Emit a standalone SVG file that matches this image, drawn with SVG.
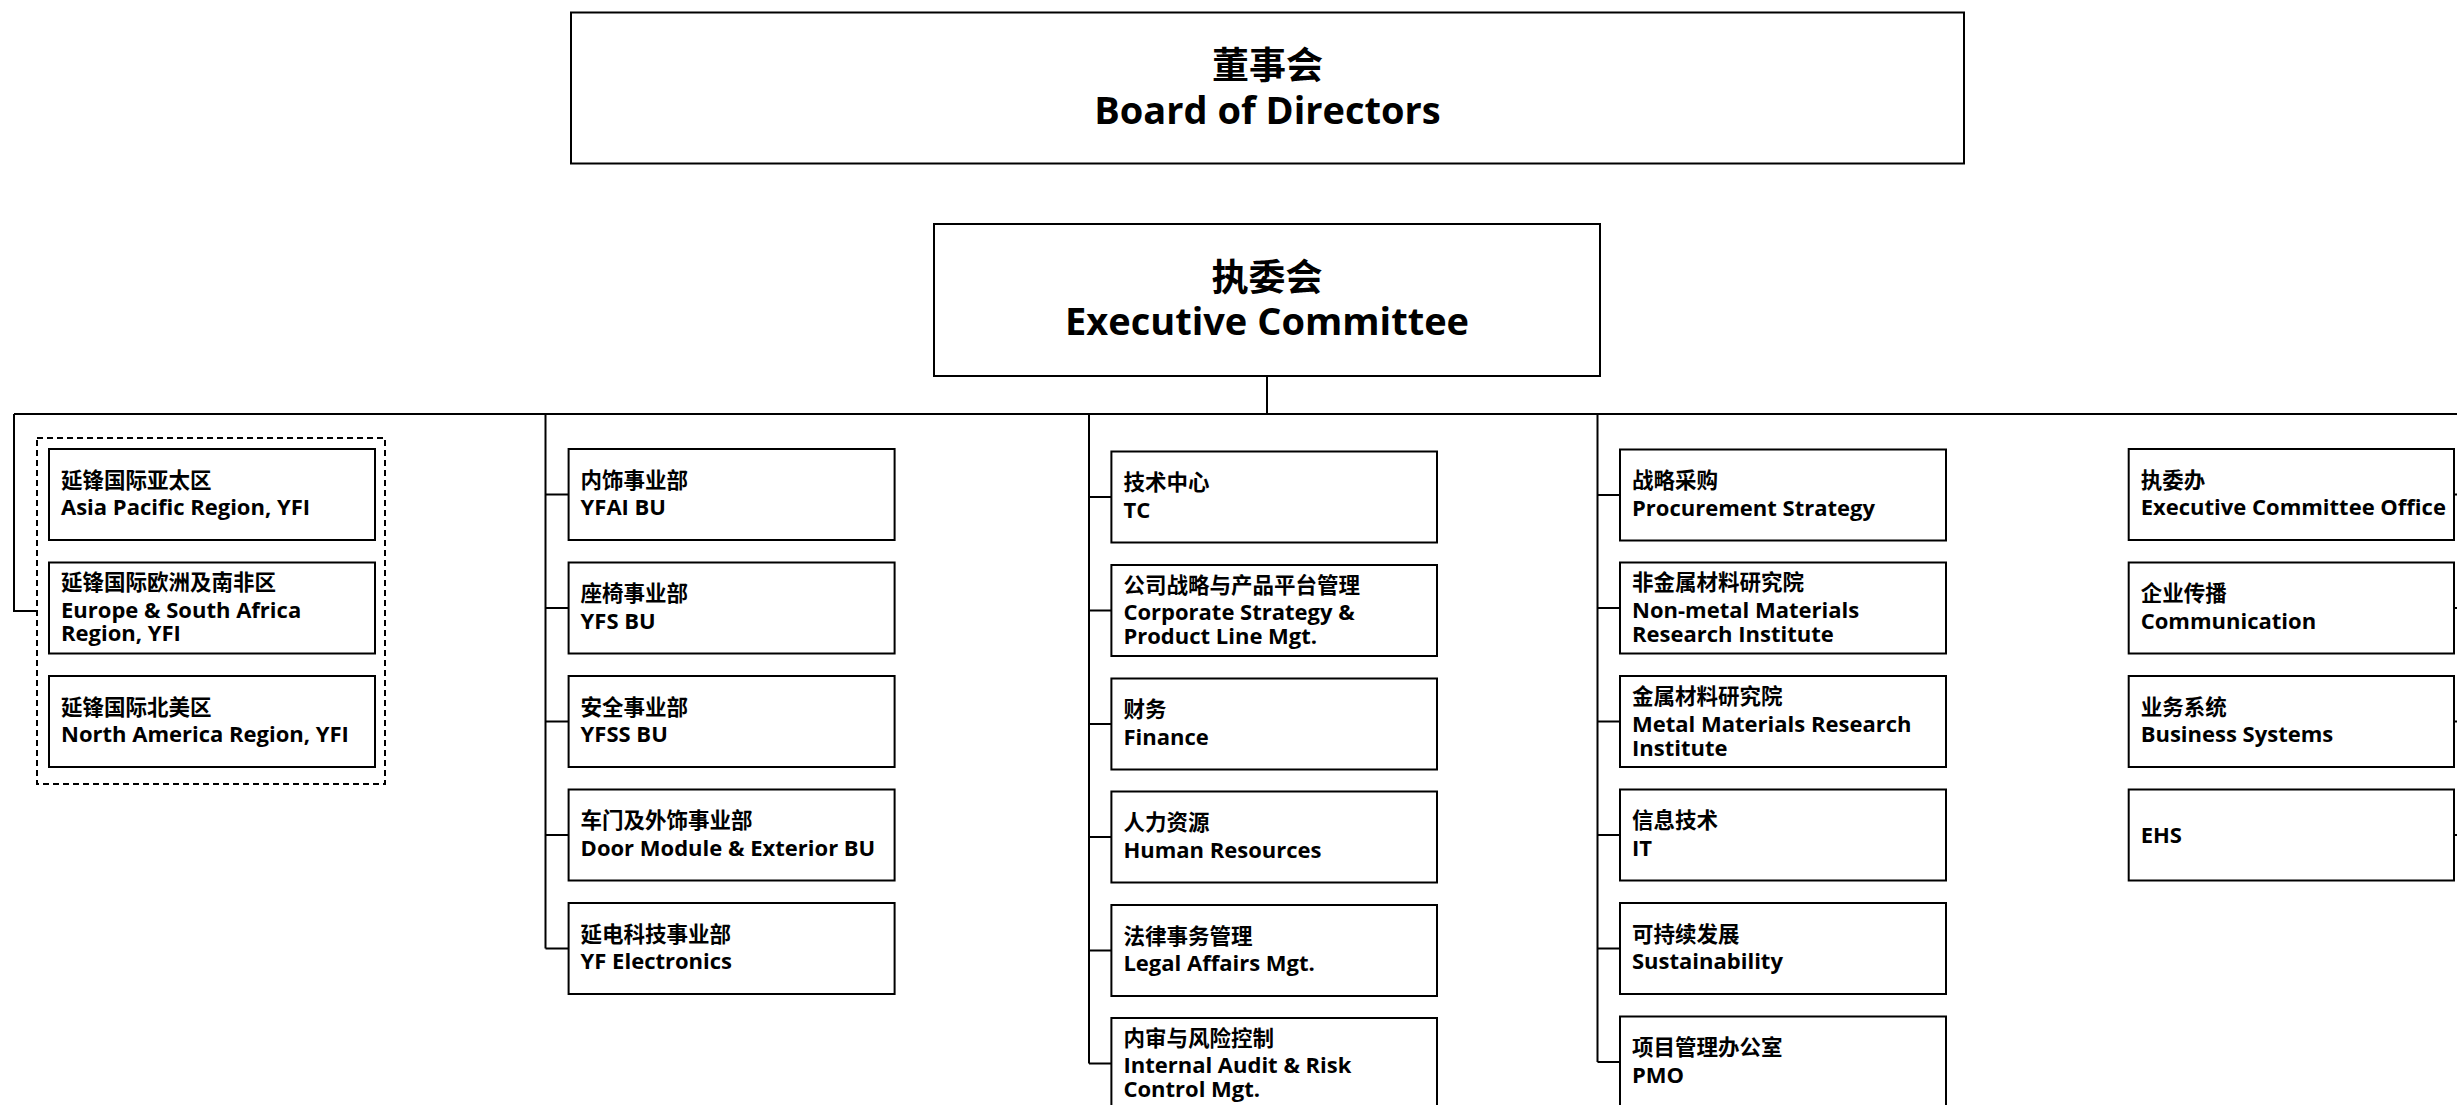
<svg xmlns="http://www.w3.org/2000/svg" width="2457" height="1105" viewBox="0 0 2457 1105">
<style>
.box{fill:#fff;stroke:#000;stroke-width:2}
.dash{fill:none;stroke:#000;stroke-width:2;stroke-dasharray:6 4}
.con{fill:none;stroke:#000;stroke-width:2}
.en{font-family:"Open Sans","Noto Sans","Noto Sans CJK SC",sans-serif;font-weight:bold;font-size:22px;fill:#000}
.zh{font-family:"Noto Sans CJK SC",sans-serif;font-weight:bold;font-size:21.5px;fill:#000}
.ten{font-family:"Open Sans","Noto Sans","Noto Sans CJK SC",sans-serif;font-weight:bold;font-size:38px;fill:#000;text-anchor:middle}
.tzh{font-family:"Noto Sans CJK SC",sans-serif;font-weight:bold;font-size:37px;fill:#000;text-anchor:middle}
</style>
<rect width="2457" height="1105" fill="#fff"/>
<g id="connectors">
<path class="con" d="M1267,376V414M14,414H2460M14,414V611H37"/>
<path class="con" d="M545.5,414V948.5M545.5,494.5H568.6M545.5,608H568.6M545.5,721.5H568.6M545.5,835H568.6M545.5,948.5H568.6"/>
<path class="con" d="M1089,414V1063.5M1089,497H1111.4M1089,610.5H1111.4M1089,724H1111.4M1089,837H1111.4M1089,950.5H1111.4M1089,1063.5H1111.4"/>
<path class="con" d="M1597.5,414V1062M1597.5,495H1620M1597.5,608H1620M1597.5,721.5H1620M1597.5,835H1620M1597.5,948.5H1620M1597.5,1062H1620"/>
<path class="con" d="M2458,414V835M2454,494.5H2460M2454,608H2460M2454,721.5H2460M2454,835H2460"/>
</g>
<g id="board"><rect class="box" x="571" y="12.5" width="1393" height="151"/><text class="tzh" x="1267.5" y="79">董事会</text><text class="ten" x="1267.5" y="124">Board of Directors</text></g>
<g id="exec"><rect class="box" x="934" y="224" width="666" height="152"/><text class="tzh" x="1267" y="291">执委会</text><text class="ten" x="1267" y="335">Executive Committee</text></g>
<g id="yfi-group"><rect class="dash" x="37" y="438" width="348" height="346"/></g>
<g id="asia"><rect class="box" x="49" y="449" width="326" height="91"/><text class="zh" x="61" y="487.5">延锋国际亚太区</text><text class="en" x="61" y="515">Asia Pacific Region, YFI</text></g>
<g id="europe"><rect class="box" x="49" y="562.5" width="326" height="91"/><text class="zh" x="61" y="590">延锋国际欧洲及南非区</text><text class="en" x="61" y="618">Europe &amp; South Africa</text><text class="en" x="61" y="641">Region, YFI</text></g>
<g id="namerica"><rect class="box" x="49" y="676" width="326" height="91"/><text class="zh" x="61" y="714.5">延锋国际北美区</text><text class="en" x="61" y="742">North America Region, YFI</text></g>
<g id="yfai"><rect class="box" x="568.6" y="449" width="326" height="91"/><text class="zh" x="580.6" y="487.5">内饰事业部</text><text class="en" x="580.6" y="515">YFAI BU</text></g>
<g id="yfs"><rect class="box" x="568.6" y="562.5" width="326" height="91"/><text class="zh" x="580.6" y="601">座椅事业部</text><text class="en" x="580.6" y="628.5">YFS BU</text></g>
<g id="yfss"><rect class="box" x="568.6" y="676" width="326" height="91"/><text class="zh" x="580.6" y="714.5">安全事业部</text><text class="en" x="580.6" y="742">YFSS BU</text></g>
<g id="door"><rect class="box" x="568.6" y="789.5" width="326" height="91"/><text class="zh" x="580.6" y="828">车门及外饰事业部</text><text class="en" x="580.6" y="855.5">Door Module &amp; Exterior BU</text></g>
<g id="yfe"><rect class="box" x="568.6" y="903" width="326" height="91"/><text class="zh" x="580.6" y="941.5">延电科技事业部</text><text class="en" x="580.6" y="969">YF Electronics</text></g>
<g id="tc"><rect class="box" x="1111.4" y="451.5" width="325.6" height="91"/><text class="zh" x="1123.4" y="490">技术中心</text><text class="en" x="1123.4" y="517.5">TC</text></g>
<g id="strategy"><rect class="box" x="1111.4" y="565" width="325.6" height="91"/><text class="zh" x="1123.4" y="592.5">公司战略与产品平台管理</text><text class="en" x="1123.4" y="620">Corporate Strategy &amp;</text><text class="en" x="1123.4" y="644">Product Line Mgt.</text></g>
<g id="finance"><rect class="box" x="1111.4" y="678.5" width="325.6" height="91"/><text class="zh" x="1123.4" y="717">财务</text><text class="en" x="1123.4" y="744.5">Finance</text></g>
<g id="hr"><rect class="box" x="1111.4" y="791.5" width="325.6" height="91"/><text class="zh" x="1123.4" y="830">人力资源</text><text class="en" x="1123.4" y="857.5">Human Resources</text></g>
<g id="legal"><rect class="box" x="1111.4" y="905" width="325.6" height="91"/><text class="zh" x="1123.4" y="943.5">法律事务管理</text><text class="en" x="1123.4" y="971">Legal Affairs Mgt.</text></g>
<g id="audit"><rect class="box" x="1111.4" y="1018" width="325.6" height="91"/><text class="zh" x="1123.4" y="1045.5">内审与风险控制</text><text class="en" x="1123.4" y="1073">Internal Audit &amp; Risk</text><text class="en" x="1123.4" y="1097">Control Mgt.</text></g>
<g id="procurement"><rect class="box" x="1620" y="449.5" width="326" height="91"/><text class="zh" x="1632" y="488">战略采购</text><text class="en" x="1632" y="515.5">Procurement Strategy</text></g>
<g id="nonmetal"><rect class="box" x="1620" y="562.5" width="326" height="91"/><text class="zh" x="1632" y="590">非金属材料研究院</text><text class="en" x="1632" y="618">Non-metal Materials</text><text class="en" x="1632" y="642">Research Institute</text></g>
<g id="metal"><rect class="box" x="1620" y="676" width="326" height="91"/><text class="zh" x="1632" y="703.5">金属材料研究院</text><text class="en" x="1632" y="731.5">Metal Materials Research</text><text class="en" x="1632" y="755.5">Institute</text></g>
<g id="it"><rect class="box" x="1620" y="789.5" width="326" height="91"/><text class="zh" x="1632" y="828">信息技术</text><text class="en" x="1632" y="855.5">IT</text></g>
<g id="sustain"><rect class="box" x="1620" y="903" width="326" height="91"/><text class="zh" x="1632" y="941.5">可持续发展</text><text class="en" x="1632" y="969">Sustainability</text></g>
<g id="pmo"><rect class="box" x="1620" y="1016.5" width="326" height="91"/><text class="zh" x="1632" y="1055">项目管理办公室</text><text class="en" x="1632" y="1082.5">PMO</text></g>
<g id="eco"><rect class="box" x="2128.7" y="449" width="325.3" height="91"/><text class="zh" x="2140.7" y="487.5">执委办</text><text class="en" x="2140.7" y="515">Executive Committee Office</text></g>
<g id="comm"><rect class="box" x="2128.7" y="562.5" width="325.3" height="91"/><text class="zh" x="2140.7" y="601">企业传播</text><text class="en" x="2140.7" y="628.5">Communication</text></g>
<g id="bizsys"><rect class="box" x="2128.7" y="676" width="325.3" height="91"/><text class="zh" x="2140.7" y="714.5">业务系统</text><text class="en" x="2140.7" y="742">Business Systems</text></g>
<g id="ehs"><rect class="box" x="2128.7" y="789.5" width="325.3" height="91"/><text class="en" x="2140.7" y="842.5">EHS</text></g>
</svg>
